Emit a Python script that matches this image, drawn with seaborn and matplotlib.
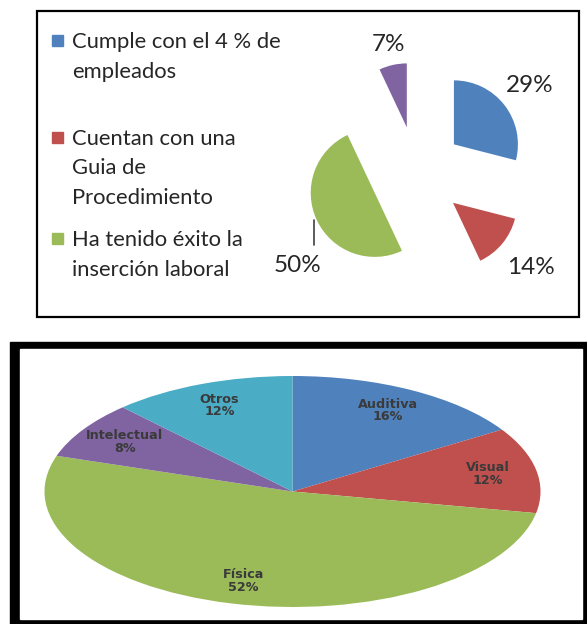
import numpy as np
import matplotlib
matplotlib.use("Agg")
import matplotlib.pyplot as plt
from matplotlib.patches import Rectangle
import seaborn as sns

# top chart data
top_names = ["Cumple con el 4 % de\nempleados",
             "Cuentan con una\nGuia de\nProcedimiento",
             "Ha tenido éxito la\ninserción laboral",
             None]
top_values = [29, 14, 50, 7]
top_colors = ["#4F81BD", "#C0504D", "#9BBB59", "#8064A2"]

# bottom chart data
bot_names = ["Auditiva", "Visual", "Física", "Intelectual", "Otros"]
bot_values = [16, 12, 52, 8, 12]
bot_colors = ["#4F81BD", "#C0504D", "#9BBB59", "#8064A2", "#4BACC6"]

W, H = 587, 624
sns.set_style("white")
plt.rcParams["font.family"] = ["Lato", "DejaVu Sans"]

fig = plt.figure(figsize=(W / 100, H / 100), dpi=100)


def px_axes(x0, y0, x1, y1):
    # axes placed with pixel coords (y from top)
    a = fig.add_axes([x0 / W, 1 - y1 / H, (x1 - x0) / W, (y1 - y0) / H])
    a.set_facecolor("none")
    return a


# background / frames
bg = px_axes(0, 0, W, H)
bg.set_xlim(0, W)
bg.set_ylim(H, 0)
bg.axis("off")
bg.add_patch(Rectangle((37, 11), 542, 306, fill=False, lw=1.6, ec="black"))
bg.add_patch(Rectangle((10, 342), 600, 300, color="black"))
bg.add_patch(Rectangle((20, 349), 562, 270, color="white"))

# legend of the top chart
entry_y = [48, 145, 246]
line_h = 29.5
for name, col, y in zip(top_names, top_colors, entry_y):
    bg.add_patch(Rectangle((52, y - 13), 11, 11, color=col))
    for k, line in enumerate(name.split("\n")):
        bg.text(72, y + k * line_h, line, fontsize=15.8, color="#262626", va="baseline")

# top exploded pie
R = 64
cx, cy = 417, 173
ax1 = px_axes(cx - 2 * R, cy - 2 * R, cx + 2 * R, cy + 2 * R)
wedges, _ = ax1.pie(top_values, colors=top_colors, startangle=90, counterclock=False,
                    explode=[0.73] * len(top_values), wedgeprops=dict(linewidth=0))
ax1.set_aspect("auto")
ax1.set_xlim(-2, 2)
ax1.set_ylim(-2, 2)

label_dist = [2.22, 2.31, 2.36, 2.05]
label_turn = [0, 0, 12.5, 0]
for w, v, d, t in zip(wedges, top_values, label_dist, label_turn):
    ang = np.deg2rad((w.theta1 + w.theta2) / 2 + t)
    ax1.text(d * np.cos(ang), d * np.sin(ang), f"{v}%", fontsize=17.5,
             color="#262626", ha="center", va="center")
# leader line for the 50% label
ax1.plot([-1.61, -1.61], [-0.74, -1.12], color="#404040", lw=1.2)

# bottom flattened pie
ax2 = px_axes(44.5, 376, 540.5, 607)
ax2.pie(bot_values, colors=bot_colors, startangle=90, counterclock=False,
        labels=[f"{n}\n{v}%" for n, v in zip(bot_names, bot_values)],
        labeldistance=0.8, wedgeprops=dict(linewidth=0),
        textprops=dict(ha="center", va="center", fontsize=9.2, fontweight="bold",
                       color="#3a3a3a", family="DejaVu Sans", linespacing=0.95))
ax2.set_aspect("auto")
ax2.set_xlim(-1, 1)
ax2.set_ylim(-1, 1)

fig.savefig("out.png", dpi=100)
